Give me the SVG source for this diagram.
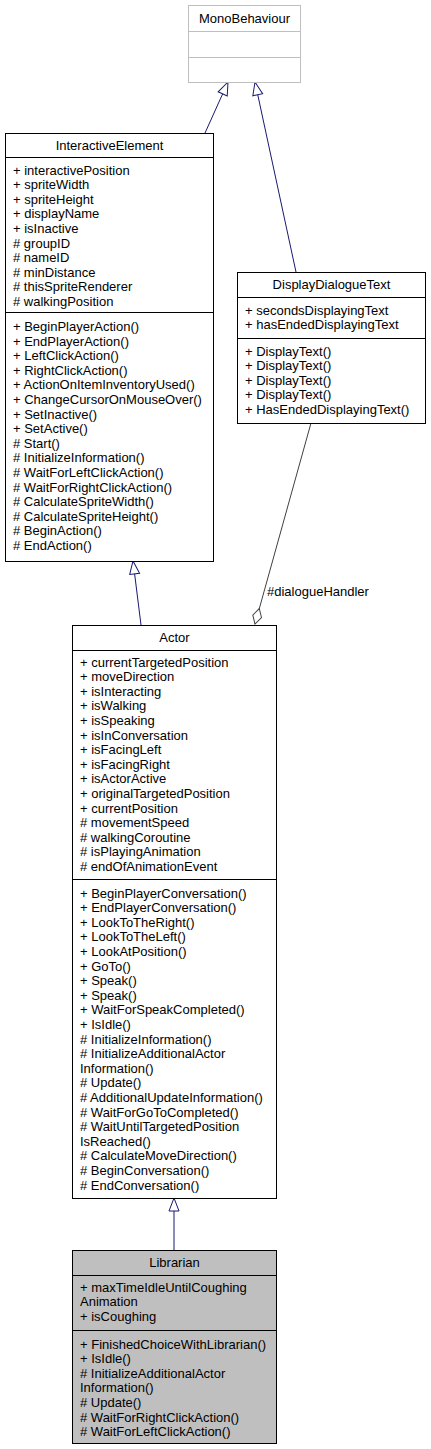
<svg xmlns="http://www.w3.org/2000/svg" width="431" height="1449" viewBox="0 0 431 1449">
<style>
text{font-family:"Liberation Sans",Arial,sans-serif;font-size:13px;fill:#000}
.t{text-anchor:middle}
.box{fill:#fff;stroke:#000;stroke-width:1}
.gbox{fill:#fff;stroke:#bfbfbf;stroke-width:1}
.hl{fill:#bfbfbf;stroke:#000;stroke-width:1}
.gen{fill:none;stroke:#191970;stroke-width:1;marker-end:url(#tri)}
.agg{fill:none;stroke:#404040;stroke-width:1;marker-end:url(#dia)}
</style>
<defs>
<marker id="tri" markerUnits="userSpaceOnUse" viewBox="0 0 15 12" refX="14" refY="6" markerWidth="15" markerHeight="12" orient="auto">
<path d="M1,1 L14,6 L1,11 Z" fill="#fff" stroke="#191970" stroke-width="1"/>
</marker>
<marker id="dia" markerUnits="userSpaceOnUse" viewBox="0 0 18 12" refX="17" refY="6" markerWidth="18" markerHeight="12" orient="auto">
<path d="M1,6 L9,1.5 L17,6 L9,10.5 Z" fill="#fff" stroke="#404040" stroke-width="1"/>
</marker>
</defs>
<rect width="431" height="1449" fill="#fff"/>
<g id="connectors">
<line class="gen" x1="205" y1="133" x2="228" y2="82"/>
<line class="gen" x1="296" y1="272" x2="255" y2="82"/>
<line class="gen" x1="141" y1="625" x2="133" y2="561"/>
<line class="gen" x1="174" y1="1250" x2="174" y2="1198"/>
<line class="agg" x1="311" y1="423" x2="255" y2="624"/>
<text x="267" y="596">#dialogueHandler</text>
</g>
<g id="MonoBehaviour">
<rect class="gbox" x="188.5" y="5.5" width="112" height="77"/>
<line x1="188.5" y1="31.5" x2="300.5" y2="31.5" stroke="#bfbfbf"/>
<line x1="188.5" y1="57.5" x2="300.5" y2="57.5" stroke="#bfbfbf"/>
<text class="t" x="244.5" y="23">MonoBehaviour</text>
</g>
<g id="InteractiveElement">
<rect class="box" x="5.5" y="133.5" width="208" height="428"/>
<line x1="5.5" y1="157.5" x2="213.5" y2="157.5" stroke="#000"/>
<line x1="5.5" y1="312.5" x2="213.5" y2="312.5" stroke="#000"/>
<text class="t" x="109.5" y="150">InteractiveElement</text>
<text x="13" y="174.5">+ interactivePosition</text>
<text x="13" y="189.1">+ spriteWidth</text>
<text x="13" y="203.7">+ spriteHeight</text>
<text x="13" y="218.3">+ displayName</text>
<text x="13" y="232.9">+ isInactive</text>
<text x="13" y="247.5"># groupID</text>
<text x="13" y="262.1"># nameID</text>
<text x="13" y="276.7"># minDistance</text>
<text x="13" y="291.3"># thisSpriteRenderer</text>
<text x="13" y="305.9"># walkingPosition</text>
<text x="13" y="331">+ BeginPlayerAction()</text>
<text x="13" y="345.6">+ EndPlayerAction()</text>
<text x="13" y="360.2">+ LeftClickAction()</text>
<text x="13" y="374.8">+ RightClickAction()</text>
<text x="13" y="389.4">+ ActionOnItemInventoryUsed()</text>
<text x="13" y="404">+ ChangeCursorOnMouseOver()</text>
<text x="13" y="418.6">+ SetInactive()</text>
<text x="13" y="433.2">+ SetActive()</text>
<text x="13" y="447.8"># Start()</text>
<text x="13" y="462.4"># InitializeInformation()</text>
<text x="13" y="477"># WaitForLeftClickAction()</text>
<text x="13" y="491.6"># WaitForRightClickAction()</text>
<text x="13" y="506.2"># CalculateSpriteWidth()</text>
<text x="13" y="520.8"># CalculateSpriteHeight()</text>
<text x="13" y="535.4"># BeginAction()</text>
<text x="13" y="550"># EndAction()</text>
</g>
<g id="DisplayDialogueText">
<rect class="box" x="237.5" y="272.5" width="188" height="151"/>
<line x1="237.5" y1="297.5" x2="425.5" y2="297.5" stroke="#000"/>
<line x1="237.5" y1="338.5" x2="425.5" y2="338.5" stroke="#000"/>
<text class="t" x="331.5" y="289">DisplayDialogueText</text>
<text x="245" y="314.5">+ secondsDisplayingText</text>
<text x="245" y="329.1">+ hasEndedDisplayingText</text>
<text x="245" y="355.5">+ DisplayText()</text>
<text x="245" y="370.1">+ DisplayText()</text>
<text x="245" y="384.7">+ DisplayText()</text>
<text x="245" y="399.3">+ DisplayText()</text>
<text x="245" y="413.9">+ HasEndedDisplayingText()</text>
</g>
<g id="Actor">
<rect class="box" x="72.5" y="625.5" width="204" height="573"/>
<line x1="72.5" y1="650.5" x2="276.5" y2="650.5" stroke="#000"/>
<line x1="72.5" y1="879.5" x2="276.5" y2="879.5" stroke="#000"/>
<text class="t" x="174.5" y="642">Actor</text>
<text x="80" y="666.5">+ currentTargetedPosition</text>
<text x="80" y="681.1">+ moveDirection</text>
<text x="80" y="695.7">+ isInteracting</text>
<text x="80" y="710.3">+ isWalking</text>
<text x="80" y="724.9">+ isSpeaking</text>
<text x="80" y="739.5">+ isInConversation</text>
<text x="80" y="754.1">+ isFacingLeft</text>
<text x="80" y="768.7">+ isFacingRight</text>
<text x="80" y="783.3">+ isActorActive</text>
<text x="80" y="797.9">+ originalTargetedPosition</text>
<text x="80" y="812.5">+ currentPosition</text>
<text x="80" y="827.1"># movementSpeed</text>
<text x="80" y="841.7"># walkingCoroutine</text>
<text x="80" y="856.3"># isPlayingAnimation</text>
<text x="80" y="870.9"># endOfAnimationEvent</text>
<text x="80" y="897.5">+ BeginPlayerConversation()</text>
<text x="80" y="912.1">+ EndPlayerConversation()</text>
<text x="80" y="926.7">+ LookToTheRight()</text>
<text x="80" y="941.3">+ LookToTheLeft()</text>
<text x="80" y="955.9">+ LookAtPosition()</text>
<text x="80" y="970.5">+ GoTo()</text>
<text x="80" y="985.1">+ Speak()</text>
<text x="80" y="999.7">+ Speak()</text>
<text x="80" y="1014.3">+ WaitForSpeakCompleted()</text>
<text x="80" y="1028.9">+ IsIdle()</text>
<text x="80" y="1043.5"># InitializeInformation()</text>
<text x="80" y="1058.1"># InitializeAdditionalActor</text>
<text x="80" y="1072.7">Information()</text>
<text x="80" y="1087.3"># Update()</text>
<text x="80" y="1101.9"># AdditionalUpdateInformation()</text>
<text x="80" y="1116.5"># WaitForGoToCompleted()</text>
<text x="80" y="1131.1"># WaitUntilTargetedPosition</text>
<text x="80" y="1145.7">IsReached()</text>
<text x="80" y="1160.3"># CalculateMoveDirection()</text>
<text x="80" y="1174.9"># BeginConversation()</text>
<text x="80" y="1189.5"># EndConversation()</text>
</g>
<g id="Librarian">
<rect class="hl" x="72.5" y="1250.5" width="204" height="193"/>
<line x1="72.5" y1="1275.5" x2="276.5" y2="1275.5" stroke="#000"/>
<line x1="72.5" y1="1330.5" x2="276.5" y2="1330.5" stroke="#000"/>
<text class="t" x="174.5" y="1267">Librarian</text>
<text x="80" y="1291.5">+ maxTimeIdleUntilCoughing</text>
<text x="80" y="1306.1">Animation</text>
<text x="80" y="1320.7">+ isCoughing</text>
<text x="80" y="1348.5">+ FinishedChoiceWithLibrarian()</text>
<text x="80" y="1363.1">+ IsIdle()</text>
<text x="80" y="1377.7"># InitializeAdditionalActor</text>
<text x="80" y="1392.3">Information()</text>
<text x="80" y="1406.9"># Update()</text>
<text x="80" y="1421.5"># WaitForRightClickAction()</text>
<text x="80" y="1436.1"># WaitForLeftClickAction()</text>
</g>
</svg>
